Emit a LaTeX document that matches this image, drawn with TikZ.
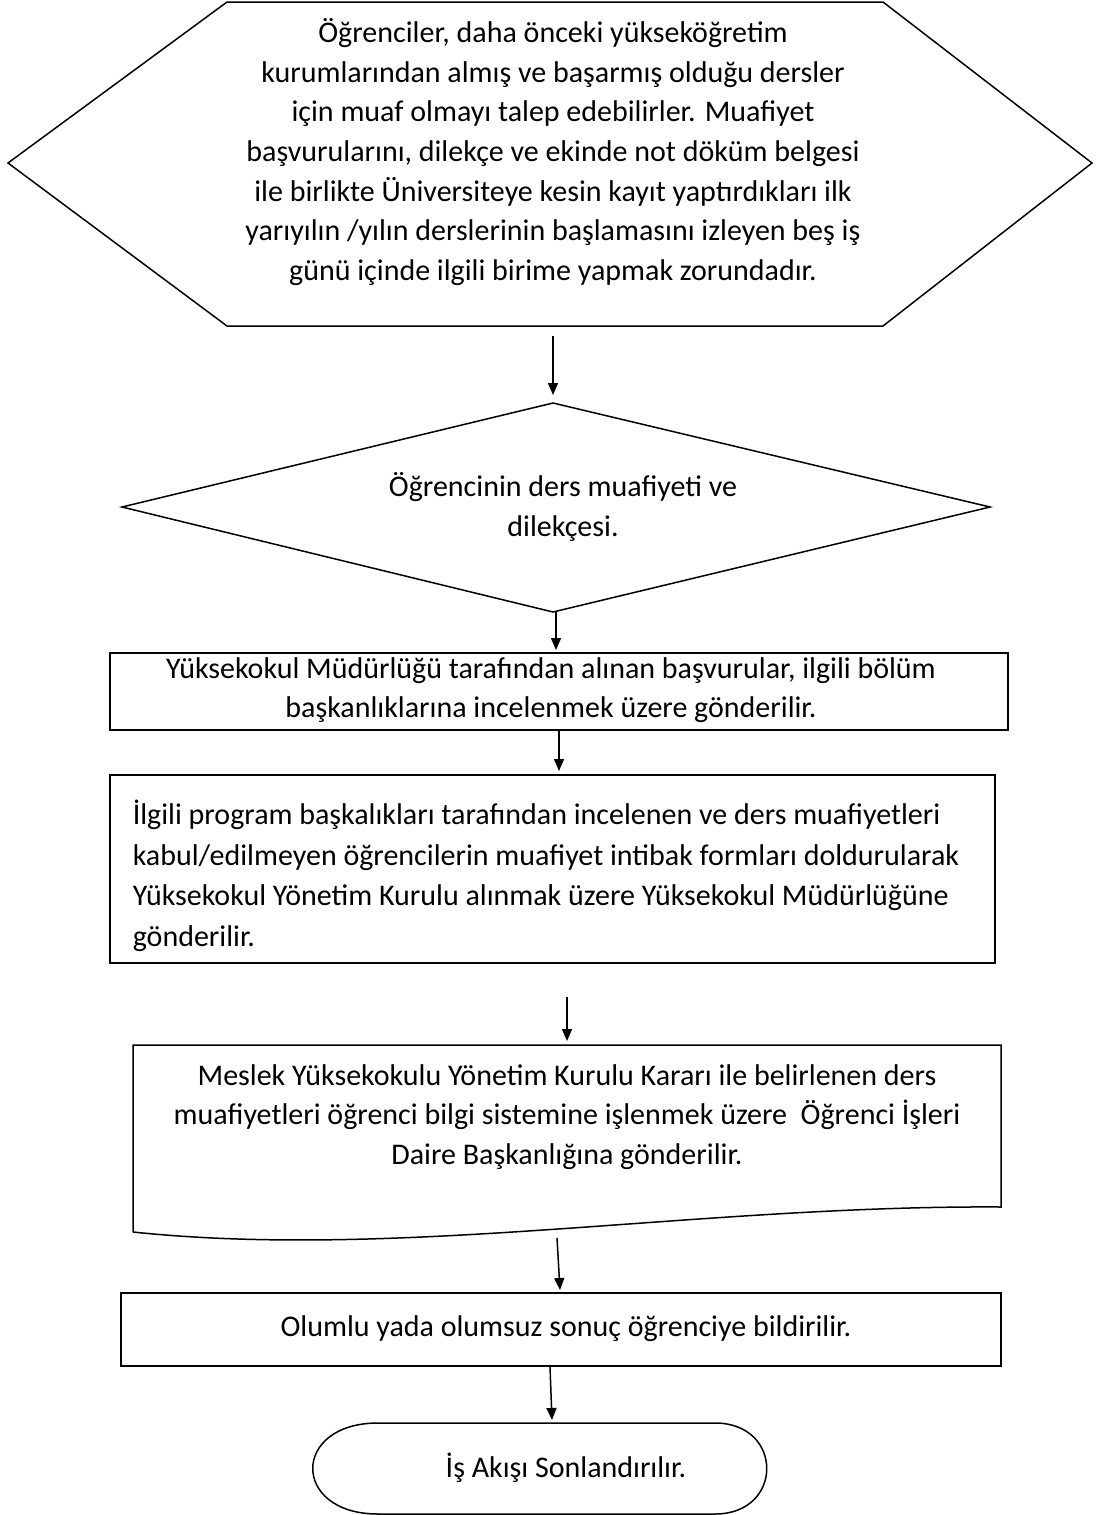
\documentclass[tikz,border=0pt]{standalone}
\usepackage{fontspec}
\setmainfont{Carlito}
\usetikzlibrary{arrows.meta}

\begin{document}
\begin{tikzpicture}[x=0.5pt,y=-0.5pt,line width=0.75pt,
    txt/.style={font=\fontsize{15}{19.8}\selectfont,align=center,inner sep=0pt},
    arr/.style={-{Triangle[length=6pt,width=5pt]}}]

\useasboundingbox (0,0) rectangle (1102,1515);

% hexagon
\draw (8,163)--(227,2)--(883,2)--(1092,163)--(883,326)--(227,326)--cycle;
\node[txt] (basvuru) at (553,152) {Öğrenciler, daha önceki yükseköğretim\\
kurumlarından almış ve başarmış olduğu dersler\\
için muaf olmayı talep edebilirler. Muafiyet\\
başvurularını, dilekçe ve ekinde not döküm belgesi\\
ile birlikte Üniversiteye kesin kayıt yaptırdıkları ilk\\
yarıyılın /yılın derslerinin başlamasını izleyen beş iş\\
günü içinde ilgili birime yapmak zorundadır.};

% diamond
\draw (553,403)--(990,507)--(553,612)--(122,507)--cycle;
\node[txt] (dilekce) at (563,507) {Öğrencinin ders muafiyeti ve\\ dilekçesi.};

% boxes
\draw (110,653) rectangle (1008,730);
\node[txt] (mudurluk) at (551,690) {Yüksekokul Müdürlüğü tarafından alınan başvurular, ilgili bölüm\\
başkanlıklarına incelenmek üzere gönderilir.};

\draw (110,775) rectangle (995,963);
\node[txt,align=left,anchor=west,font=\fontsize{15}{20.25}\selectfont] (inceleme) at (132,876) {İlgili program başkalıkları tarafından incelenen ve ders muafiyetleri\\
kabul/edilmeyen öğrencilerin muafiyet intibak formları doldurularak\\
Yüksekokul Yönetim Kurulu alınmak üzere Yüksekokul Müdürlüğüne\\
gönderilir.};

% document shape
\draw (133,1232)--(133,1045)--(1001,1045)--(1001,1207)
      .. controls (700,1205) and (400,1260) .. (133,1232);
\node[txt] (karar) at (567,1117) {Meslek Yüksekokulu Yönetim Kurulu Kararı ile belirlenen ders\\
muafiyetleri öğrenci bilgi sistemine işlenmek üzere~ Öğrenci İşleri\\
Daire Başkanlığına gönderilir.};

\draw (121,1293) rectangle (1001,1366);
\node[txt] (sonuc) at (566,1329) {Olumlu yada olumsuz sonuç öğrenciye bildirilir.};

% terminator
\draw (378,1423)--(715,1423) .. controls (784,1423) and (784,1514) .. (715,1514)
      --(378,1514) .. controls (291,1514) and (291,1423) .. (378,1423);
\node[txt] (son) at (566,1468) {İş Akışı Sonlandırılır.};

% arrows
\coordinate (a1) at (553,336); \coordinate (b1) at (553,395);
\coordinate (a2) at (556,612); \coordinate (b2) at (556,650);
\coordinate (a3) at (559,731); \coordinate (b3) at (559,771);
\coordinate (a4) at (567,997); \coordinate (b4) at (567,1041);
\coordinate (a5) at (557,1238); \coordinate (b5) at (560,1290);
\coordinate (a6) at (550,1367); \coordinate (b6) at (552,1420);
\draw[arr] (a1)--(b1);
\draw[arr] (a2)--(b2);
\draw[arr] (a3)--(b3);
\draw[arr] (a4)--(b4);
\draw[arr] (a5)--(b5);
\draw[arr] (a6)--(b6);

\end{tikzpicture}
\end{document}
